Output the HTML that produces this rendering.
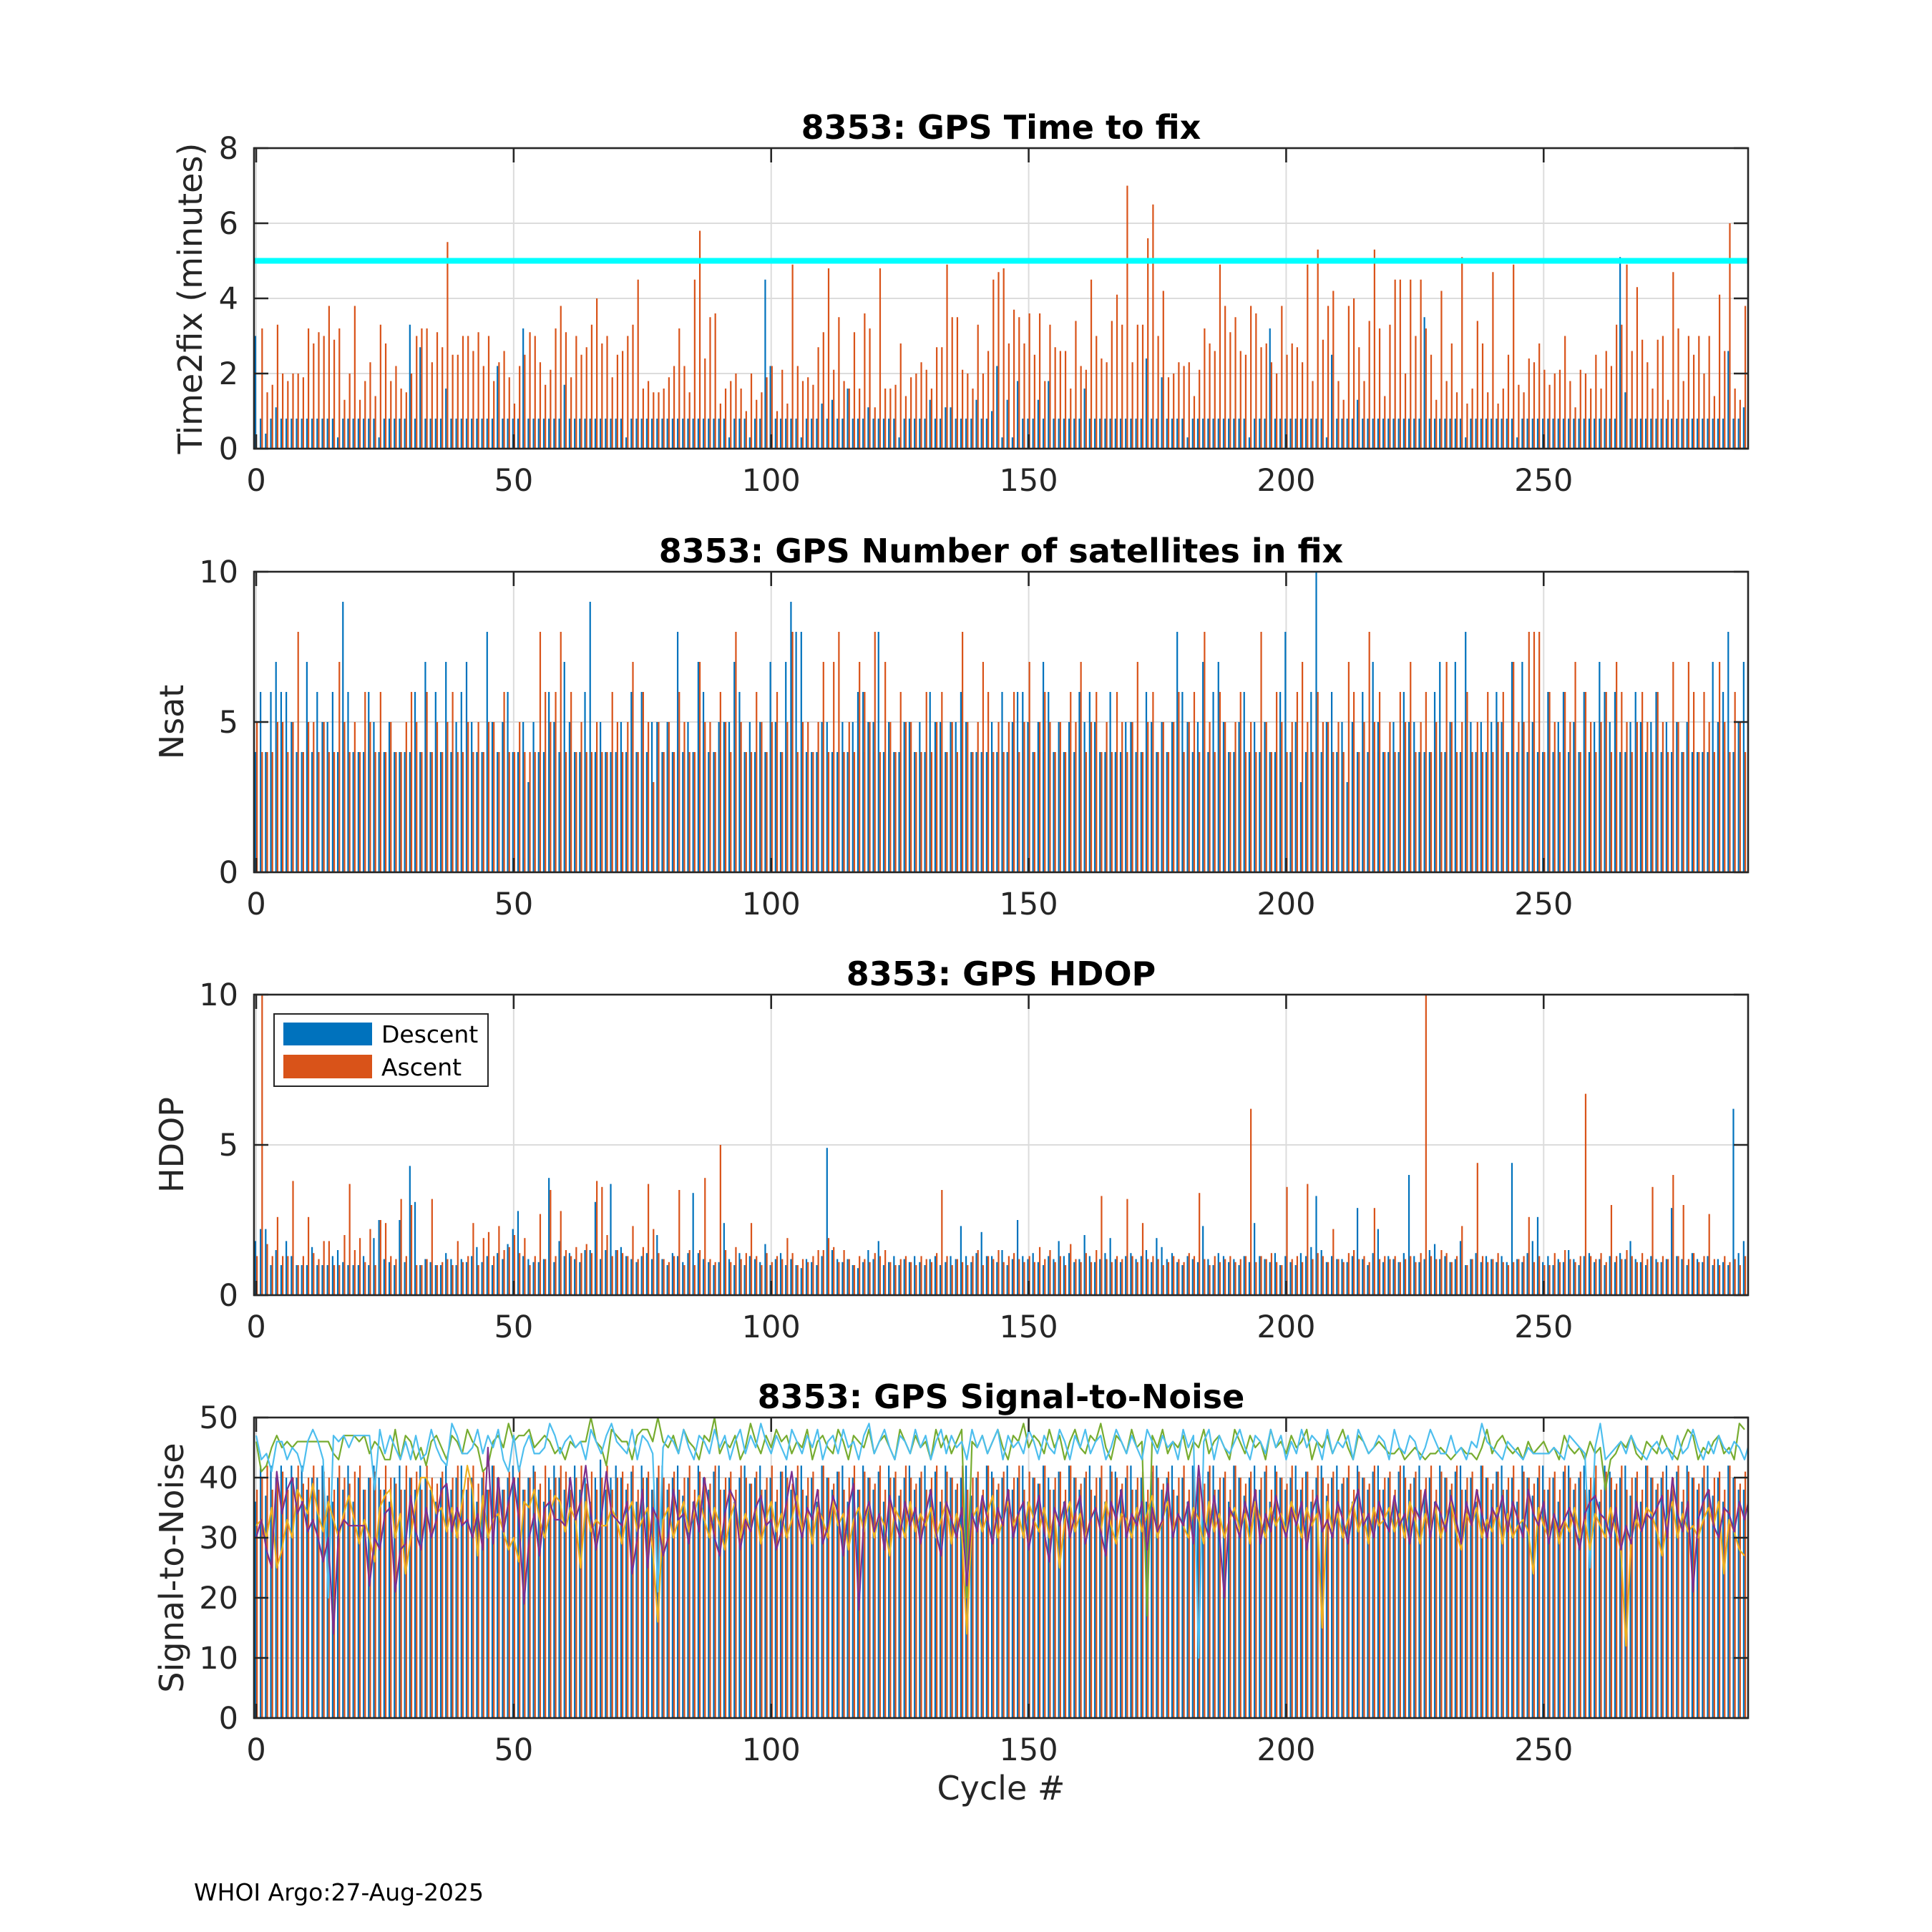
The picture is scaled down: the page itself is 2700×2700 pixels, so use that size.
<!DOCTYPE html>
<html>
<head>
<meta charset="utf-8">
<style>
html,body{margin:0;padding:0;background:#fff;}
svg{display:block;}
text{font-family:"DejaVu Sans","Liberation Sans",sans-serif;}
</style>
</head>
<body>
<svg id="fig" xmlns="http://www.w3.org/2000/svg" width="2700" height="2700" viewBox="0 0 2700 2700">
<rect x="0" y="0" width="2700" height="2700" fill="#fff"/>
<text x="271" y="2656" font-size="33" fill="#000">WHOI Argo:27-Aug-2025</text>
</svg>
<script>
// ---------- DATA ----------
const tickLabelsX = [0, 50, 100, 150, 200, 250];
const t2fTicks = [0, 2, 4, 6, 8];
const nsatTicks = [0, 5, 10];
const hdopTicks = [0, 5, 10];
const snrTicks = [0, 10, 20, 30, 40, 50];
const t2fThreshold = [5];

const t2fDescent = [3.0,0.8,0.4,0.8,1.1,0.8,0.8,0.8,0.8,0.8, 0.8,0.8,0.8,0.8,0.8,0.8,0.3,0.8,0.8,0.8, 0.8,0.8,0.8,0.8,0.3,0.8,0.8,0.8,0.8,0.8, 3.3,0.8,2.7,0.8,0.8,0.8,0.8,1.6,0.8,0.8, 0.8,0.8,0.8,0.8,0.8,0.8,0.8,2.2,0.8,0.8, 0.8,0.8,3.2,0.8,0.8,0.8,0.8,0.8,0.8,0.8, 1.7,0.8,0.8,0.8,0.8,0.8,0.8,0.8,0.8,0.8, 0.8,0.8,0.3,0.8,0.8,0.8,0.8,0.8,0.8,0.8, 0.8,0.8,0.8,0.8,0.8,0.8,0.8,0.8,0.8,0.8, 0.8,0.8,0.3,0.8,0.8,0.8,0.3,0.8,0.8,4.5, 2.2,0.8,0.8,0.8,0.8,0.8,0.3,0.8,0.8,0.8, 1.2,0.8,1.3,0.8,0.8,1.6,0.8,0.8,0.8,1.1, 0.8,0.8,0.8,0.8,0.8,0.3,0.8,0.8,0.8,0.8, 0.8,1.3,0.8,0.8,1.1,1.1,0.8,0.8,0.8,0.8, 1.3,0.8,0.8,1.0,2.2,0.3,1.3,0.3,1.8,0.8, 0.8,0.8,1.3,0.8,1.8,0.8,0.8,0.8,0.8,0.8, 0.8,1.6,0.8,0.8,0.8,0.8,0.8,0.8,0.8,0.8, 0.8,0.8,0.8,2.4,0.8,0.8,1.9,0.8,0.8,0.8, 0.8,0.3,0.8,0.8,0.8,0.8,0.8,0.8,0.8,0.8, 0.8,0.8,0.8,0.3,0.8,0.8,0.8,3.2,0.8,0.8, 0.8,0.8,0.8,0.8,0.8,0.8,0.8,0.8,0.3,2.5, 0.8,0.8,0.8,0.8,1.3,0.8,0.8,0.8,0.8,0.8, 0.8,0.8,0.8,0.8,0.8,0.8,0.8,3.5,0.8,0.8, 0.8,0.8,0.8,0.8,0.8,0.3,0.8,0.8,0.8,0.8, 0.8,0.8,0.8,0.8,0.8,0.3,0.8,0.8,0.8,0.8, 0.8,0.8,0.8,0.8,0.8,0.8,0.8,0.8,0.8,0.8, 0.8,0.8,0.8,0.8,0.8,5.1,1.5,0.8,0.8,0.8, 0.8,0.8,0.8,0.8,0.8,0.8,0.8,0.8,0.8,0.8, 0.8,0.8,0.8,0.8,0.8,0.8,2.6,0.8,0.8,1.1];
const t2fAscent = [0,3.2,1.5,1.7,3.3,2.0,1.8,2.0,2.0,1.9, 3.2,2.8,3.1,3.0,3.8,2.9,3.2,1.3,2.0,3.8, 1.3,1.8,2.3,1.4,3.3,2.8,1.8,2.2,1.6,1.5, 2.0,3.0,3.2,3.2,2.3,3.1,2.7,5.5,2.5,2.5, 3.0,3.0,2.6,3.1,2.2,3.0,1.8,2.3,2.6,1.9, 1.2,2.2,2.5,3.1,3.0,2.3,1.7,2.1,3.2,3.8, 3.1,1.9,3.0,2.5,2.7,3.3,4.0,2.8,3.0,1.9, 2.5,2.6,3.0,3.3,4.5,1.6,1.8,1.5,1.5,1.6, 1.9,2.2,3.2,2.2,1.5,4.5,5.8,2.4,3.5,3.6, 1.2,1.6,1.8,2.0,1.6,1.0,2.0,1.3,1.5,1.9, 2.2,1.0,2.1,1.2,4.9,2.2,1.8,1.9,1.7,2.7, 3.1,4.8,2.1,3.5,1.8,1.6,3.1,1.6,3.6,3.2, 1.1,4.8,1.6,1.6,1.7,2.8,1.4,1.9,2.0,2.3, 2.1,1.6,2.7,2.7,4.9,3.5,3.5,2.1,2.0,1.6, 3.3,2.0,2.6,4.5,4.7,4.8,2.8,3.7,3.5,2.8, 3.6,2.5,3.6,1.8,3.3,2.7,2.6,2.6,1.6,3.4, 2.2,2.1,4.5,3.0,2.4,2.3,3.4,4.1,3.3,7.0, 2.3,3.3,3.3,5.6,6.5,3.0,4.2,1.9,2.0,2.3, 2.2,2.3,1.4,2.1,3.2,2.8,2.6,4.9,3.8,3.1, 3.5,2.6,2.5,3.8,3.6,2.7,2.8,2.3,2.0,3.8, 2.5,2.8,2.7,2.3,4.9,1.8,5.3,2.9,3.8,4.2, 1.8,1.3,3.8,4.0,2.7,1.8,3.4,5.3,3.2,1.4, 3.3,4.5,4.5,2.0,4.5,3.0,4.5,3.2,2.5,1.3, 4.2,1.8,2.8,1.5,5.1,1.2,1.6,3.4,2.8,1.5, 4.7,1.2,1.6,2.5,4.9,1.7,1.5,2.4,2.3,2.8, 2.1,1.7,2.0,2.1,3.0,1.8,1.1,2.1,2.0,1.6, 2.5,1.6,2.6,2.2,3.3,3.3,4.9,2.6,4.3,2.9, 2.3,1.6,2.9,3.0,1.3,4.7,3.2,1.8,3.0,2.5, 3.0,2.0,3.0,1.4,4.1,2.6,6.0,1.6,1.3,3.8];

const nsatDescent = [4,6,4,6,7,6,6,5,4,4, 7,4,6,5,5,6,4,9,6,4, 4,4,6,5,4,4,5,4,4,4, 4,6,4,7,4,6,4,7,4,5, 6,7,5,4,4,8,5,4,5,6, 4,4,5,3,5,4,4,6,5,4, 7,5,4,4,6,9,4,5,4,4, 4,5,4,6,4,6,4,5,5,4, 5,4,8,4,5,4,7,6,4,4, 5,5,5,7,6,4,5,4,5,4, 7,5,4,7,9,8,8,4,4,4, 5,5,4,4,5,4,5,6,6,5, 5,8,4,5,4,4,5,5,4,5, 4,6,5,5,4,5,5,6,5,4, 4,4,4,5,4,6,4,5,6,6, 5,4,5,7,6,4,5,4,5,4, 6,5,6,5,4,4,6,4,4,5, 5,4,4,6,5,4,5,4,5,8, 6,5,4,5,7,4,6,7,5,4, 4,5,6,4,5,4,5,4,4,6, 8,4,5,3,4,6,10,4,5,6, 4,5,3,5,4,6,4,7,5,4, 4,5,4,6,5,5,4,4,4,6, 7,4,5,7,4,8,5,4,5,4, 5,6,5,4,7,4,7,4,5,4, 4,6,4,5,6,4,5,4,6,4, 5,7,6,5,6,4,4,5,6,5, 4,5,6,4,5,4,5,4,5,4, 4,4,4,7,5,6,8,4,5,7];
const nsatAscent = [5,4,4,4,5,5,4,5,8,4, 5,5,4,5,4,4,7,5,4,5, 4,6,5,4,6,4,5,4,4,5, 6,5,4,6,4,5,4,5,6,4, 4,5,4,5,4,5,5,4,6,4, 4,5,4,4,4,8,6,5,6,8, 4,6,4,5,4,4,5,4,4,6, 5,4,5,7,4,6,5,3,5,4, 5,4,6,5,4,4,7,5,5,4, 6,5,4,8,5,4,4,6,5,4, 5,6,4,5,8,4,5,5,4,5, 7,4,7,8,4,5,4,7,6,5, 8,4,7,5,4,6,5,5,4,4, 6,4,5,6,4,5,4,8,5,4, 5,7,6,4,5,4,5,6,4,5, 7,4,5,6,5,4,5,4,6,5, 7,4,5,6,4,5,4,6,5,4, 5,7,4,5,6,4,5,4,5,6, 4,5,6,4,8,5,4,6,5,4, 5,6,4,5,4,8,5,4,6,5, 4,5,6,7,5,4,6,5,5,4, 5,4,7,6,4,5,8,5,6,4, 5,4,6,5,7,4,5,6,4,5, 4,7,5,4,5,6,4,5,4,6, 4,5,6,4,7,5,5,8,8,8, 4,6,5,4,6,5,7,4,6,5, 4,5,6,4,7,6,5,4,5,6, 5,4,6,5,4,7,5,4,7,6, 4,6,5,4,7,5,4,6,5,4];

const hdopDescent = [1.8,2.2,2.2,1.0,1.5,1.0,1.8,1.3,1.0,1.0, 1.0,1.6,1.0,1.0,1.0,1.3,1.5,1.1,1.0,1.0, 1.0,1.3,1.0,1.9,2.5,1.2,1.1,1.0,2.5,1.1, 4.3,3.1,1.0,1.2,1.1,1.0,1.0,1.4,1.2,1.0, 1.2,1.1,1.3,1.6,1.1,1.3,1.0,1.4,1.2,1.7, 2.2,2.8,1.3,1.2,1.1,1.1,1.2,3.9,1.1,1.8, 1.3,1.4,1.2,1.1,1.5,1.5,3.1,1.2,1.5,3.7, 1.5,1.6,1.3,1.2,1.1,1.3,1.4,1.2,2.0,1.2, 1.0,1.4,1.3,1.1,1.4,3.4,1.4,1.2,1.1,1.0, 1.1,2.4,1.2,1.0,1.4,1.0,1.3,1.2,1.1,1.7, 1.0,1.2,1.4,1.0,1.2,1.0,0.9,1.2,1.1,1.0, 1.3,4.9,1.5,1.2,1.1,1.2,1.0,0.9,1.1,1.5, 1.2,1.8,1.0,1.1,1.3,1.0,1.2,1.1,1.3,1.1, 1.0,1.2,1.3,1.0,1.1,1.3,1.2,2.3,1.3,1.1, 1.4,2.1,1.3,1.3,1.1,1.5,1.0,1.2,2.5,1.3, 1.2,1.4,1.1,1.0,1.3,1.2,1.8,1.3,1.4,1.1, 1.2,2.0,1.3,1.1,1.2,1.4,1.9,1.2,1.1,1.3, 1.4,1.2,1.3,1.5,1.1,1.9,1.6,1.2,1.4,1.1, 1.0,1.3,1.2,1.1,2.3,1.2,1.0,1.4,1.3,1.1, 1.2,1.0,1.3,1.1,2.4,1.3,1.2,1.1,1.4,1.0, 1.3,1.1,1.0,1.4,1.3,1.6,3.3,1.5,1.1,1.3, 1.2,1.2,1.1,1.3,2.9,1.2,1.0,1.4,2.2,1.1, 1.3,1.2,1.1,1.4,4.0,1.3,1.1,1.2,1.5,1.7, 1.2,1.3,1.1,1.2,1.8,1.0,1.2,1.4,1.1,1.3, 1.2,1.1,1.3,1.1,4.4,1.2,1.1,1.4,1.8,2.6, 1.1,1.3,1.0,1.2,1.1,1.5,1.2,1.0,1.3,1.4, 1.1,1.2,1.0,1.3,1.1,1.4,1.2,1.8,1.2,1.1, 1.0,1.3,1.2,1.1,1.2,2.9,1.3,1.2,1.0,1.4, 1.2,1.1,1.3,1.0,1.2,1.1,1.0,6.2,1.4,1.8];
const hdopAscent = [1.3,10,1.7,1.3,2.6,1.3,1.3,3.8,1.0,1.3, 2.6,1.4,1.2,1.8,1.8,1.0,1.0,2.0,3.7,1.5, 1.9,1.1,2.2,1.0,2.5,2.4,1.3,1.2,3.2,1.3, 3.0,1.0,1.0,1.2,3.2,1.0,1.1,1.2,1.0,1.8, 1.1,1.3,2.4,1.0,1.9,2.1,1.3,2.3,1.5,1.6, 2.0,1.4,1.9,1.0,1.3,2.7,1.2,3.5,1.3,2.8, 1.5,1.3,1.6,1.4,1.7,1.4,3.8,3.6,2.0,1.3, 1.5,1.4,1.3,2.3,1.2,1.6,3.7,2.2,1.4,1.2, 1.1,1.3,3.5,1.0,1.5,1.0,1.5,3.9,1.2,1.1, 5.0,1.5,1.1,1.6,1.2,1.4,2.4,1.3,1.0,1.4, 1.1,1.3,1.2,1.9,1.4,1.0,1.2,1.1,1.3,1.5, 1.5,1.9,1.6,1.1,1.5,1.2,1.0,1.3,1.2,1.1, 1.4,1.3,1.5,1.1,1.0,1.2,1.3,1.1,1.0,1.3, 1.2,1.1,1.4,3.5,1.3,1.0,1.2,1.1,1.0,1.3, 1.5,1.0,1.3,1.2,1.5,1.1,1.3,1.4,1.2,1.1, 1.3,1.1,1.6,1.2,1.5,1.1,1.3,1.0,1.7,1.2, 1.1,1.4,1.1,1.5,3.3,1.2,1.1,1.3,1.2,3.2, 1.3,1.1,2.4,1.2,1.3,1.2,1.0,1.1,1.3,1.2, 1.1,1.4,1.3,3.4,1.2,1.0,1.3,1.1,1.2,1.3, 1.1,1.2,1.3,6.2,1.1,1.3,1.2,1.4,1.1,1.0, 3.6,1.2,1.3,1.1,3.7,1.2,1.4,1.3,1.1,2.2, 1.2,1.1,1.4,1.5,1.2,1.3,1.1,2.9,1.2,1.3, 1.2,1.3,1.1,1.2,1.3,1.1,1.4,10,1.3,1.2, 1.5,1.4,1.1,1.3,2.3,1.0,1.2,4.4,1.3,1.1, 1.2,1.4,1.1,1.0,1.1,1.2,1.3,2.6,1.1,1.3, 1.0,1.0,1.4,1.1,1.5,1.2,1.1,1.3,6.7,1.3, 1.2,1.4,1.1,3.0,1.3,1.2,1.5,1.3,1.1,1.4, 1.2,3.6,1.1,1.3,1.2,4.0,1.3,3.0,1.2,1.4, 1.1,1.3,2.7,1.2,1.0,1.3,1.1,1.2,1.0,1.3];

const snrDescent = [36,42,37,42,40,42,40,42,40,42, 38,40,40,42,37,36,40,38,42,36, 40,38,40,42,40,38,36,40,42,38, 40,38,42,40,38,36,40,42,38,40, 42,38,40,36,40,38,42,40,38,40, 42,40,38,40,42,38,36,40,42,40, 38,40,42,38,40,36,40,43,38,40, 42,40,38,41,36,42,40,38,40,42, 38,40,42,37,40,36,42,40,38,41, 42,38,40,36,40,42,39,40,42,38, 40,36,41,42,38,40,42,37,40,36, 42,40,38,41,42,36,40,38,42,40, 38,41,36,42,40,37,40,42,38,40, 42,38,41,36,42,40,38,40,42,37, 40,36,42,41,38,40,42,38,40,42, 36,40,39,42,40,38,41,36,42,40, 38,40,42,37,40,36,42,41,38,40, 42,38,40,36,41,42,38,40,42,37, 40,36,42,40,38,41,42,38,40,36, 42,40,37,40,42,38,41,36,42,40, 38,40,42,38,41,36,40,42,37,40, 42,39,40,36,42,40,38,41,42,38, 40,36,41,42,38,40,42,37,40,36, 42,40,38,41,42,38,40,36,42,40, 38,41,42,38,40,36,42,40,37,40, 42,38,40,36,41,42,38,40,42,38, 40,36,42,41,38,40,42,37,40,36, 42,40,38,40,42,38,41,36,42,40, 38,40,42,37,40,36,42,40,38,38];
const snrAscent = [38,40,42,38,40,41,38,40,42,39, 40,42,38,41,40,38,42,40,39,41, 42,38,40,41,38,42,40,39,38,42, 40,41,38,42,40,39,41,38,40,42, 38,40,42,39,41,38,42,40,38,41, 40,42,38,40,41,39,42,38,40,42, 41,38,40,42,39,41,38,40,42,38, 40,41,39,42,38,40,41,38,42,40, 39,41,38,40,42,38,41,40,39,42, 38,40,41,38,42,40,39,41,38,40, 42,38,41,40,39,42,38,40,41,38, 42,40,39,41,38,40,42,38,41,40, 39,42,38,40,41,38,42,40,39,41, 38,40,42,38,41,40,39,42,38,40, 41,38,42,40,39,41,38,40,42,38, 41,40,39,42,38,40,41,38,42,40, 39,41,38,40,42,38,41,40,39,42, 38,40,41,38,42,40,39,41,38,40, 42,38,41,40,39,42,38,40,41,38, 42,40,39,41,38,40,42,38,41,40, 39,42,38,40,41,38,42,40,39,41, 38,40,42,38,41,40,39,42,38,40, 41,38,42,40,39,41,38,40,42,38, 41,40,39,42,38,40,41,38,42,40, 39,41,38,40,42,38,41,40,39,42, 38,40,41,38,42,40,39,41,38,40, 42,38,41,40,39,42,38,40,41,38, 42,40,39,41,38,40,42,38,41,40, 39,42,38,40,41,38,42,40,39,41];

const snrGreen = [46,41,42,45,47,45,46,45,46,46, 46,46,46,46,46,44,43,47,47,47, 46,47,44,46,45,43,43,48,43,47, 46,43,45,42,46,47,45,43,47,46, 44,48,46,45,41,42,46,47,45,49, 46,47,47,48,45,46,47,46,44,45, 43,46,45,46,46,50,46,45,42,48, 47,46,46,43,47,48,48,46,50,46, 45,47,44,48,46,45,43,47,46,50, 44,46,45,47,43,45,49,46,44,47, 45,48,46,47,44,46,45,48,43,46, 47,45,44,48,46,43,47,46,45,48, 44,46,47,45,43,48,46,44,47,45, 46,43,48,45,47,44,46,48,20,46, 45,47,44,46,48,45,43,47,46,49, 45,47,46,44,48,45,47,43,46,48, 45,44,47,46,49,45,43,47,46,44, 48,45,46,17,47,45,48,44,46,45, 47,43,46,45,48,44,46,47,45,43, 48,46,44,47,45,46,43,48,45,46, 44,47,45,46,48,43,46,45,47,44, 46,48,45,43,47,46,44,45,46,45, 44,44,45,43,44,45,44,43,44,44, 45,44,43,44,45,44,44,43,45,48, 44,46,47,45,44,45,43,46,44,45, 46,44,45,43,47,45,44,45,43,46, 44,45,38,43,44,46,45,47,44,43, 46,45,44,47,45,44,43,46,48,47, 43,45,44,46,47,44,45,43,49,48];
const snrCyan = [47,43,44,41,46,46,43,45,44,41, 46,48,46,43,20,47,46,47,45,47, 47,47,47,38,48,44,47,45,43,46, 43,47,43,44,48,45,43,42,49,47, 44,44,45,48,44,47,45,48,43,41, 47,41,45,47,44,44,45,49,47,44, 46,47,45,46,43,48,46,44,47,49, 46,45,44,48,43,47,46,44,21,45, 47,46,44,48,45,43,47,46,44,48, 45,47,43,46,48,44,47,45,49,46, 44,47,45,43,48,46,44,47,45,48, 43,46,47,44,48,45,46,43,47,49, 44,46,48,45,43,47,46,44,48,45, 47,43,46,48,44,47,45,46,43,48, 45,47,44,46,48,43,47,45,46,44, 48,46,43,47,45,44,48,46,43,47, 45,48,44,46,47,43,45,48,46,44, 47,45,43,48,46,44,47,45,46,43, 48,45,47,10,46,48,43,47,45,44, 46,48,45,43,47,46,44,48,45,47, 43,46,44,48,45,47,46,43,48,44, 46,45,47,43,48,46,44,45,47,46, 43,48,45,44,47,46,43,45,48,46, 44,44,47,44,45,43,46,45,49,46, 45,44,43,46,45,44,43,45,44,44, 44,44,45,44,43,47,46,45,44,25, 45,49,43,44,45,46,44,47,45,44, 43,45,46,44,45,43,47,44,45,48, 45,43,46,44,47,45,44,46,45,43, 46,44,45,47,43,44,46,45,47,42];
const snrPurple = [30,33,28,25,41,34,38,40,34,36, 31,33,30,26,30,14,31,33,32,32, 32,32,22,30,28,34,35,21,28,29, 37,31,28,35,30,33,38,39,31,35, 32,33,30,34,28,45,29,40,31,36, 40,33,19,30,34,27,35,36,33,33, 32,40,33,36,42,34,28,33,41,34, 33,32,36,24,30,38,25,35,33,27, 30,38,33,34,29,36,31,40,35,30, 27,34,38,36,28,33,31,35,37,32, 33,28,31,36,41,34,30,35,33,38, 29,32,37,34,27,35,39,18,33,36, 31,34,28,37,33,30,36,32,35,29, 34,38,31,27,36,33,30,35,22,34, 31,37,33,29,35,32,38,30,34,36, 28,33,37,31,26,35,32,36,30,34, 37,29,33,35,31,27,36,33,38,30, 34,32,36,28,35,31,33,39,30,34, 32,36,29,42,33,30,37,31,20,35, 33,30,36,32,38,29,34,31,37,33, 30,35,32,36,28,34,37,31,33,30, 36,33,29,35,38,32,34,30,36,33, 31,37,32,34,29,35,33,38,30,36, 34,31,37,33,29,36,32,38,34,30, 35,33,37,31,36,33,30,38,34,32, 36,29,34,31,33,35,32,28,34,36, 37,34,33,30,35,28,32,29,36,31, 34,33,35,37,30,40,34,31,36,21, 33,36,38,32,30,35,34,31,36,33, 37,35,32,34,38,36,30,31,33,32];
const snrYellow = [32,33,30,35,25,28,33,30,38,36, 34,39,34,31,36,33,30,34,37,33, 29,33,30,26,35,37,38,30,34,24, 30,36,40,40,38,34,35,31,35,30, 36,42,38,27,37,30,33,34,31,28, 30,26,36,35,38,33,30,34,37,36, 31,35,33,25,36,31,33,32,32,35, 33,29,34,36,31,33,35,28,16,33, 35,30,33,36,31,34,37,33,30,35, 32,28,33,36,30,34,31,35,29,33, 36,31,34,30,33,37,31,34,29,35, 33,30,36,32,34,28,33,35,31,36, 30,34,32,27,35,33,30,36,31,34, 32,35,30,33,36,29,34,31,14,33, 35,31,34,37,30,33,36,32,34,30, 36,33,31,35,30,34,25,33,36,31, 34,30,33,35,31,36,32,29,34,33, 30,35,31,34,37,30,33,36,31,34, 32,30,35,33,29,36,31,34,30,33, 35,31,34,29,36,33,30,35,32,34, 31,36,33,30,35,32,34,15,36,31, 34,30,33,36,31,34,29,35,32,33, 35,31,34,30,36,33,29,34,31,35, 30,33,36,31,28,34,32,35,30,33, 31,35,29,34,30,32,33,31,24,35, 32,30,34,29,33,31,35,30,33,28, 34,32,30,35,31,28,12,30,33,31, 35,34,31,27,33,36,30,34,31,32, 30,33,35,32,36,24,33,31,28,27];

// ---------- LAYOUT ----------
const svg = document.getElementById('fig');
const NS = 'http://www.w3.org/2000/svg';
const AX_L = 355, AX_R = 2443, AX_H = 420;
const XMIN = -0.42, XMAX = 289.7;
const C_BLUE = '#0072BD', C_ORANGE = '#D95319';
const TICK_FS = 43, LABEL_FS = 46, TITLE_FS = 46;
function xPx(v){ return AX_L + (v - XMIN) / (XMAX - XMIN) * (AX_R - AX_L); }
function mk(tag, attrs, parent){
  const el = document.createElementNS(NS, tag);
  for (const k in attrs) el.setAttribute(k, attrs[k]);
  (parent || svg).appendChild(el);
  return el;
}

function drawPanel(cfg){
  const top = cfg.top, bot = top + AX_H;
  const yPx = v => bot - v / cfg.ymax * AX_H;
  const g = mk('g', {});
  
  
  const clipId = 'clip-' + cfg.name;
  const cp = mk('clipPath', {id: clipId}, g);
  mk('rect', {x: AX_L, y: top, width: AX_R - AX_L, height: AX_H}, cp);
  const grid = mk('g', {stroke: '#dcdcdc', 'stroke-width': 2}, g);
  
  
  tickLabelsX.forEach(t => mk('line', {x1: xPx(t), x2: xPx(t), y1: top, y2: bot}, grid));
  cfg.yticks.forEach(t => mk('line', {x1: AX_L, x2: AX_R, y1: yPx(t), y2: yPx(t)}, grid));
  const data = mk('g', {'clip-path': 'url(#' + clipId + ')'}, g);
  const bw = 2.2;
  const descG = mk('g', {fill: C_BLUE}, data);
  
  
  cfg.desc.forEach((v, i) => {
    if (!v) return;
    const r = mk('rect', {x: xPx(i) - bw, y: yPx(v), width: bw, height: bot - yPx(v)}, descG);
    
    
  });
  const ascG = mk('g', {fill: C_ORANGE}, data);
  
  
  cfg.asc.forEach((v, i) => {
    if (!v) return;
    const r = mk('rect', {x: xPx(i), y: yPx(v), width: bw, height: bot - yPx(v)}, ascG);
    
    
  });
  if (cfg.extra) cfg.extra(data, yPx);
  const box = mk('rect', {x: AX_L, y: top, width: AX_R - AX_L, height: AX_H, fill: 'none', stroke: '#262626', 'stroke-width': 2.6}, g);
  
  
  const tk = mk('g', {stroke: '#262626', 'stroke-width': 2.6}, g);
  tickLabelsX.forEach(t => {
    mk('line', {x1: xPx(t), x2: xPx(t), y1: bot, y2: bot - 20}, tk);
    mk('line', {x1: xPx(t), x2: xPx(t), y1: top, y2: top + 20}, tk);
  });
  cfg.yticks.forEach(t => {
    mk('line', {x1: AX_L, x2: AX_L + 20, y1: yPx(t), y2: yPx(t)}, tk);
    mk('line', {x1: AX_R, x2: AX_R - 20, y1: yPx(t), y2: yPx(t)}, tk);
  });
  tickLabelsX.forEach(t => {
    const tx = mk('text', {x: xPx(t), y: bot + 59, 'text-anchor': 'middle', 'font-size': TICK_FS, fill: '#262626'}, g);
    
    
    tx.textContent = t;
  });
  cfg.yticks.forEach(t => {
    const tx = mk('text', {x: 333, y: yPx(t) + 15, 'text-anchor': 'end', 'font-size': TICK_FS, fill: '#262626'}, g);
    
    
    tx.textContent = t;
  });
  const yc = (top + bot) / 2;
  const yl = mk('text', {x: 0, y: 0, 'text-anchor': 'middle', 'font-size': LABEL_FS, fill: '#262626', transform: 'translate(' + (cfg.ylabX + 16) + ',' + yc + ') rotate(-90)'}, g);
  
  
  yl.textContent = cfg.ylabel;
  const tt = mk('text', {x: (AX_L + AX_R) / 2, y: top - 13, 'text-anchor': 'middle', 'font-size': TITLE_FS, 'font-weight': 'bold', fill: '#000'}, g);
  
  
  tt.textContent = cfg.title;
  return {top, bot, yPx, g};
}

drawPanel({name: 'time-to-fix-panel', top: 207, ymax: 8, yticks: t2fTicks, desc: t2fDescent, asc: t2fAscent,
  title: '8353: GPS Time to fix', ylabel: 'Time2fix (minutes)', ylabX: 266,
  extra: (parent, yPx) => {
    t2fThreshold.forEach(v => {
      const l = mk('line', {x1: AX_L, x2: AX_R, y1: yPx(v), y2: yPx(v), stroke: '#00FFFF', 'stroke-width': 8}, parent);
      
      
    });
  }});

drawPanel({name: 'nsat-panel', top: 799, ymax: 10, yticks: nsatTicks, desc: nsatDescent, asc: nsatAscent,
  title: '8353: GPS Number of satellites in fix', ylabel: 'Nsat', ylabX: 240});

const hd = drawPanel({name: 'hdop-panel', top: 1390, ymax: 10, yticks: hdopTicks, desc: hdopDescent, asc: hdopAscent,
  title: '8353: GPS HDOP', ylabel: 'HDOP', ylabX: 240});

const lg = mk('g', {}, hd.g);


mk('rect', {x: 383, y: 1417, width: 299, height: 101, fill: '#fff', stroke: '#262626', 'stroke-width': 2}, lg);
const le1 = mk('rect', {x: 396, y: 1429, width: 124, height: 32, fill: C_BLUE}, lg);


const le2 = mk('rect', {x: 396, y: 1474, width: 124, height: 33, fill: C_ORANGE}, lg);


const lt1 = mk('text', {x: 533, y: 1457, 'font-size': 33, fill: '#000'}, lg);


lt1.textContent = 'Descent';
const lt2 = mk('text', {x: 533, y: 1503, 'font-size': 33, fill: '#000'}, lg);


lt2.textContent = 'Ascent';

drawPanel({name: 'snr-panel', top: 1981, ymax: 50, yticks: snrTicks, desc: snrDescent, asc: snrAscent,
  title: '8353: GPS Signal-to-Noise', ylabel: 'Signal-to-Noise', ylabX: 240,
  extra: (parent, yPx) => {
    const series = [[snrGreen, '#77AC30', 'snr-line-green'], [snrCyan, '#4DBEEE', 'snr-line-cyan'],
                    [snrYellow, '#EDB120', 'snr-line-yellow'], [snrPurple, '#7E2F8E', 'snr-line-purple']];
    series.forEach(s => {
      const pts = s[0].map((v, i) => xPx(i).toFixed(1) + ',' + yPx(v).toFixed(1)).join(' ');
      const pl = mk('polyline', {points: pts, fill: 'none', stroke: s[1], 'stroke-width': 2.2, 'stroke-linejoin': 'round'}, parent);
      
      
    });
  }});

const xl = mk('text', {x: (AX_L + AX_R) / 2, y: 2515, 'text-anchor': 'middle', 'font-size': LABEL_FS, fill: '#262626'});


xl.textContent = 'Cycle #';
</script>
</body>
</html>
